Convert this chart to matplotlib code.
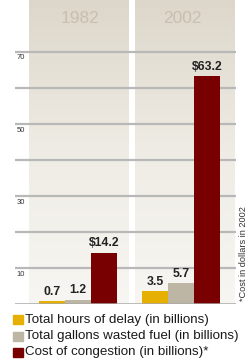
import matplotlib
matplotlib.use("Agg")
import matplotlib.pyplot as plt
import numpy as np
from matplotlib.colors import LinearSegmentedColormap
from matplotlib.patches import Rectangle

years = ["1982", "2002"]
series_names = [
    "Total hours of delay (in billions)",
    "Total gallons wasted fuel (in billions)",
    "Cost of congestion (in billions)*",
]
hours_delay = [0.7, 3.5]
gallons_wasted = [1.2, 5.7]
congestion_cost = [14.2, 63.2]
value_labels = [["0.7", "3.5"], ["1.2", "5.7"], ["$14.2", "$63.2"]]
grid_values = [10, 20, 30, 40, 50, 60, 70]
tick_labels = [10, 30, 50, 70]
footnote = "*Cost in dollars in 2002"

colors = ["#e6b000", "#bdb6a4", "#790000"]
FONT = "Liberation Sans"
W, H = 250, 361


def fx(px):
    return px / W


def fy(py):
    return 1 - py / H


fig = plt.figure(figsize=(W / 100, H / 100), dpi=100)
fig.patch.set_facecolor("white")
ax = fig.add_axes([fx(15), fy(304), fx(236) - fx(15), fy(0) - fy(304)])
ax.set_xlim(-0.612, 1.534)
ax.set_ylim(0, 84.4)
ax.axis("off")

x = np.arange(len(years))
bar_w = 0.2524

# shaded year columns (gradient, darker at top)
cmap = LinearSegmentedColormap.from_list("col", ["#f7f6f2", "#efece5", "#ddd7ca"])
grad = np.linspace(0, 1, 256).reshape(-1, 1)
col_left = [-0.476, -0.447]
col_width = 0.965
for i, xi in enumerate(x):
    ax.imshow(grad, cmap=cmap, origin="lower", aspect="auto",
              extent=[xi + col_left[i], xi + col_left[i] + col_width, 0, 84.4],
              zorder=0)
    ax.text(xi + 0.015, 79.4, years[i], ha="center", va="center",
            fontsize=12.5, color="#c8c0ae", family=FONT, zorder=1)

# grid lines
for g in grid_values:
    ax.axhline(g, color="#b8b8b8", lw=1.6, zorder=1)
ax.axhline(0, color="#a9a9a9", lw=1.8, zorder=4)
for t in tick_labels:
    ax.text(-0.6, t - 1.7, str(t), ha="left", va="center", fontsize=5.5,
            color="#333333", family=FONT, zorder=2)

series = [hours_delay, gallons_wasted, congestion_cost]
for k, vals in enumerate(series):
    xs = x + (k - 1) * bar_w
    ax.bar(xs, vals, width=bar_w, color=colors[k], zorder=3)
    for xi, v, lab in zip(xs, vals, value_labels[k]):
        ax.text(xi, v + 1.0, lab, ha="center", va="bottom", fontsize=8.8,
                fontweight="bold", color="#222222", family=FONT, zorder=5)

# legend drawn by hand
row_y = [319.5, 336, 352.5]
for k, name in enumerate(series_names):
    fig.patches.append(Rectangle((fx(13), fy(row_y[k] + 4.5)), fx(10), 9 / H,
                                 transform=fig.transFigure, color=colors[k]))
    fig.text(fx(25), fy(row_y[k]), name, ha="left", va="center",
             fontsize=9.6, color="#1a1a1a", family=FONT)

fig.text(fx(243), fy(254), footnote, rotation=90, ha="center", va="center",
         fontsize=6.6, color="#333333", family=FONT)

fig.savefig("out.png", dpi=100)
